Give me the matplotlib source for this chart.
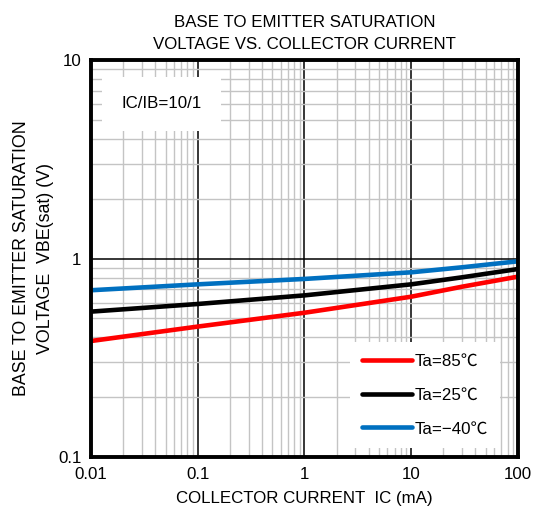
import matplotlib
matplotlib.use("Agg")
import matplotlib.pyplot as plt
from matplotlib.ticker import FixedLocator, NullFormatter, FixedFormatter
import numpy as np

plt.rcParams['font.family'] = ['Liberation Sans', 'Noto Sans CJK JP', 'DejaVu Sans']

ic_ma = [0.01, 0.1, 1, 10, 30, 100]
vbe_85 = [0.384, 0.454, 0.533, 0.642, 0.721, 0.81]
vbe_25 = [0.54, 0.59, 0.652, 0.741, 0.804, 0.885]
vbe_m40 = [0.692, 0.741, 0.789, 0.852, 0.903, 0.968]
series_labels = ['Ta=85℃', 'Ta=25℃', 'Ta=−40℃']
series_colors = ['#ff0000', '#000000', '#0070c0']
x_ticks = [0.01, 0.1, 1, 10, 100]
x_ticklabels = ['0.01', '0.1', '1', '10', '100']
y_ticks = [0.1, 1, 10]
y_ticklabels = ['0.1', '1', '10']

fs = 12.2

fig = plt.figure(figsize=(5.4, 5.15), dpi=100)
ax = fig.add_axes([0.1685, 0.1126, 0.7905, 0.7709])
ax.set_xscale('log')
ax.set_yscale('log')
ax.set_xlim(0.01, 100)
ax.set_ylim(0.1, 10)

ax.xaxis.set_major_locator(FixedLocator(x_ticks))
ax.yaxis.set_major_locator(FixedLocator(y_ticks))
ax.xaxis.set_major_formatter(FixedFormatter(x_ticklabels))
ax.yaxis.set_major_formatter(FixedFormatter(y_ticklabels))
ax.xaxis.set_minor_locator(matplotlib.ticker.LogLocator(base=10, subs=np.arange(2, 10)))
ax.yaxis.set_minor_locator(matplotlib.ticker.LogLocator(base=10, subs=np.arange(2, 10)))
ax.xaxis.set_minor_formatter(NullFormatter())
ax.yaxis.set_minor_formatter(NullFormatter())
ax.grid(which='minor', color='#c4c4c4', linewidth=1.0, zorder=0)
ax.grid(which='major', color='#000000', linewidth=1.1, zorder=1)
ax.set_axisbelow(True)
ax.tick_params(which='both', length=0, labelsize=fs, pad=7)

for s in ax.spines.values():
    s.set_linewidth(2.8)
    s.set_zorder(5)

lines = []
for vals, lab, col in zip([vbe_85, vbe_25, vbe_m40], series_labels, series_colors):
    l, = ax.plot(ic_ma, vals, color=col, linewidth=3.3, label=lab, zorder=3,
                 solid_capstyle='round')
    lines.append(l)

ax.text(0.072, 0.89, 'IC/IB=10/1', transform=ax.transAxes, fontsize=fs,
        ha='left', va='center', zorder=4,
        bbox=dict(boxstyle='square,pad=1.15', facecolor='white', edgecolor='none'))

leg = ax.legend(handles=lines, loc='lower left', fontsize=fs, frameon=True,
                fancybox=False, edgecolor='none', framealpha=1.0,
                handlelength=3.0, handletextpad=0.12, labelspacing=1.1,
                borderpad=0.7, borderaxespad=0.0, bbox_to_anchor=(0.606, 0.022))
leg.set_zorder(4)

ax.set_xlabel('COLLECTOR CURRENT  IC (mA)', fontsize=fs, labelpad=7)
ax.set_ylabel('BASE TO EMITTER SATURATION\nVOLTAGE  VBE(sat) (V)', fontsize=12.8,
              labelpad=3, linespacing=1.55)
ax.set_title('BASE TO EMITTER SATURATION\nVOLTAGE VS. COLLECTOR CURRENT',
             fontsize=fs, linespacing=1.55, pad=8)

fig.savefig('out.png', dpi=100)
